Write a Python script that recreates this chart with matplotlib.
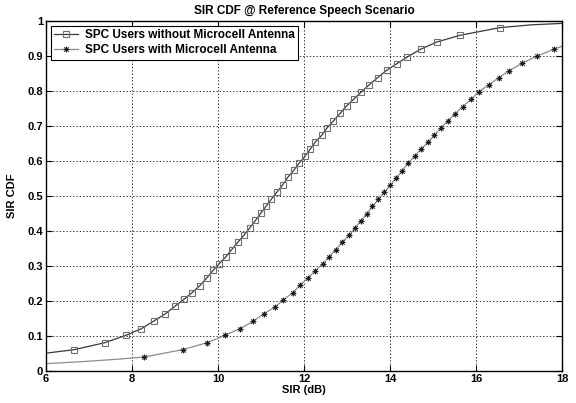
import matplotlib
matplotlib.use('Agg')
import matplotlib.pyplot as plt

# SPC users without microcell antenna (line points)
sir_no_mc = [6.0, 6.66, 7.37, 7.86, 8.22, 8.51, 8.77, 9.00, 9.21, 9.40, 9.58,
             9.74, 9.89, 10.03, 10.18, 10.32, 10.47, 10.61, 10.74, 10.87, 10.99,
             11.12, 11.24, 11.37, 11.50, 11.62, 11.76, 11.88, 12.02, 12.14, 12.26,
             12.41, 12.54, 12.68, 12.84, 12.99, 13.16, 13.33, 13.52, 13.71, 13.92,
             14.16, 14.40, 14.71, 15.09, 15.63, 16.56, 17.3, 18.0]
cdf_no_mc = [0.051, 0.061, 0.081, 0.102, 0.121, 0.143, 0.163, 0.185, 0.205, 0.224, 0.244,
             0.266, 0.288, 0.307, 0.326, 0.347, 0.369, 0.389, 0.409, 0.430, 0.450,
             0.471, 0.491, 0.511, 0.531, 0.553, 0.573, 0.593, 0.613, 0.633, 0.654,
             0.673, 0.695, 0.714, 0.736, 0.757, 0.777, 0.797, 0.818, 0.838, 0.859,
             0.878, 0.897, 0.919, 0.940, 0.959, 0.981, 0.989, 0.993]

# SPC users with microcell antenna
sir_mc = [6.0, 7.0, 7.7, 8.28, 9.18, 9.75, 10.16, 10.51, 10.82, 11.07, 11.33, 11.52,
          11.74, 11.91, 12.09, 12.26, 12.43, 12.59, 12.74, 12.89, 13.05, 13.19, 13.32,
          13.46, 13.59, 13.73, 13.87, 14.00, 14.14, 14.28, 14.41, 14.57, 14.71, 14.88,
          15.03, 15.18, 15.34, 15.51, 15.69, 15.88, 16.07, 16.30, 16.53, 16.77, 17.07,
          17.41, 17.81, 18.0]
cdf_mc = [0.021, 0.028, 0.034, 0.040, 0.061, 0.081, 0.102, 0.121, 0.142, 0.164, 0.183, 0.204,
          0.224, 0.245, 0.266, 0.286, 0.306, 0.327, 0.347, 0.368, 0.388, 0.409, 0.429,
          0.449, 0.470, 0.490, 0.510, 0.530, 0.551, 0.571, 0.593, 0.613, 0.633, 0.653,
          0.673, 0.694, 0.714, 0.735, 0.755, 0.776, 0.798, 0.818, 0.838, 0.858, 0.879,
          0.899, 0.919, 0.928]

# which points carry a marker (the rest only shape the line)
marks_no_mc = list(range(1, len(sir_no_mc) - 2))
marks_mc = list(range(3, len(sir_mc) - 1))

xticks = [6, 8, 10, 12, 14, 16, 18]
yticks = [0, 0.1, 0.2, 0.3, 0.4, 0.5, 0.6, 0.7, 0.8, 0.9, 1]
ytick_labels = ['0', '0.1', '0.2', '0.3', '0.4', '0.5', '0.6', '0.7', '0.8', '0.9', '1']

plt.rcParams['font.family'] = ['Liberation Sans', 'DejaVu Sans']
plt.rcParams['font.weight'] = 'bold'
plt.rcParams['font.size'] = 8

fig = plt.figure(figsize=(5.76, 4.03), dpi=100)
ax = fig.add_axes([0.0799, 0.0794, 0.8958, 0.8686])

ax.plot(sir_no_mc, cdf_no_mc, color='#3a3a3a', lw=0.9, marker='s', markevery=marks_no_mc,
        ms=5, mfc='none', mec='#707070', mew=0.8,
        label='SPC Users without Microcell Antenna')
# MATLAB style asterisk: 8-armed star
ax.plot(sir_mc, cdf_mc, color='#8c8c8c', lw=0.9, marker=(8, 2, 0), markevery=marks_mc,
        ms=4, mfc='#1e1e1e', mec='#1e1e1e', mew=0.6,
        label='SPC Users with Microcell Antenna')

ax.set_xlim(6, 18)
ax.set_ylim(0, 1)
ax.set_xticks(xticks)
ax.set_xticklabels([str(t) for t in xticks])
ax.set_yticks(yticks)
ax.set_yticklabels(ytick_labels)
ax.tick_params(direction='in', top=True, right=True, length=4, width=0.8, pad=2)
ax.grid(True, color='black', linestyle=(0, (1.5, 2.5)), linewidth=0.6)
for s in ax.spines.values():
    s.set_linewidth(1.0)

ax.set_title('SIR CDF @ Reference Speech Scenario', fontweight='bold', fontsize=8.5, pad=5)
ax.set_xlabel('SIR (dB)', fontweight='bold', labelpad=1)
ax.set_ylabel('SIR CDF', fontweight='bold', labelpad=8)

leg = ax.legend(loc='upper left', fancybox=False, edgecolor='black', framealpha=1,
                handlelength=2.0, handletextpad=0.6, borderaxespad=0.4, borderpad=0.3,
                labelspacing=0.25, prop={'weight': 'bold', 'size': 8.5})
leg.get_frame().set_linewidth(0.8)

fig.savefig('out.png', dpi=100)
